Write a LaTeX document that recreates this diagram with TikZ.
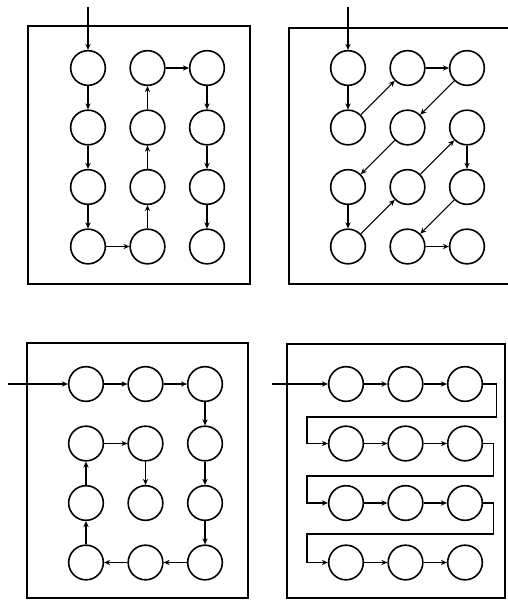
\documentclass[tikz,border=0pt]{standalone}
\usetikzlibrary{arrows.meta}

\begin{document}
\begin{tikzpicture}[
    x=0.75pt, y=-0.75pt,
    cell/.style={circle, draw, line width=1.2pt, minimum size=26pt, inner sep=0pt},
    arrow/.style={-{Stealth[length=4.5pt, width=4pt]}, line width=0.8pt},
    frame/.style={draw, line width=1pt},
  ]
  \useasboundingbox (0,0) rectangle (507,602);

  % panel frames
  \draw[frame] (28,26) rectangle (250,284);
  \draw[frame] (289,28) rectangle (512,284);
  \draw[frame] (27,343) rectangle (248,598);
  \draw[frame] (287,344) rectangle (505,598);

  % cells: a top left, b top right, c bottom left, d bottom right
  \foreach \p/\x/\y in {a/88/68, b/348/68, c/86/384, d/346/384}
    \foreach \r in {1,...,4}
      \foreach \c in {1,2,3}
        \node[cell] (\p\r\c) at ({\x+59.5*(\c-1)}, {\y+59.5*(\r-1)}) {};

  % entry points
  \coordinate (ain) at (88,7);
  \coordinate (bin) at (348,7);
  \coordinate (cin) at (8,384);
  \coordinate (din) at (272,384);

  % panel a: up and down the columns
  \draw[arrow] (ain) -- (a11);
  \foreach \s/\t in {a11/a21, a21/a31, a31/a41, a41/a42, a42/a32, a32/a22,
                     a22/a12, a12/a13, a13/a23, a23/a33, a33/a43}
    \draw[arrow] (\s) -- (\t);

  % panel b: along the diagonals
  \draw[arrow] (bin) -- (b11);
  \foreach \s/\t in {b11/b21, b21/b12, b12/b13, b13/b22, b22/b31, b31/b41,
                     b41/b32, b32/b23, b23/b33, b33/b42, b42/b43}
    \draw[arrow] (\s) -- (\t);

  % panel c: spiral
  \draw[arrow] (cin) -- (c11);
  \foreach \s/\t in {c11/c12, c12/c13, c13/c23, c23/c33, c33/c43, c43/c42,
                     c42/c41, c41/c31, c31/c21, c21/c22, c22/c32}
    \draw[arrow] (\s) -- (\t);

  % panel d: rows, wrapping round
  \draw[arrow] (din) -- (d11);
  \foreach \r in {1,...,4} {
    \draw[arrow] (d\r1) -- (d\r2);
    \draw[arrow] (d\r2) -- (d\r3);
  }
  \draw[arrow] (d13.east) -- ++(13,0) |- (307,417) |- (d21.west);
  \draw[arrow] (d23.east) -- ++(10,0) |- (307,476) |- (d31.west);
  \draw[arrow] (d33.east) -- ++(10,0) |- (307,534) |- (d41.west);
\end{tikzpicture}
\end{document}
